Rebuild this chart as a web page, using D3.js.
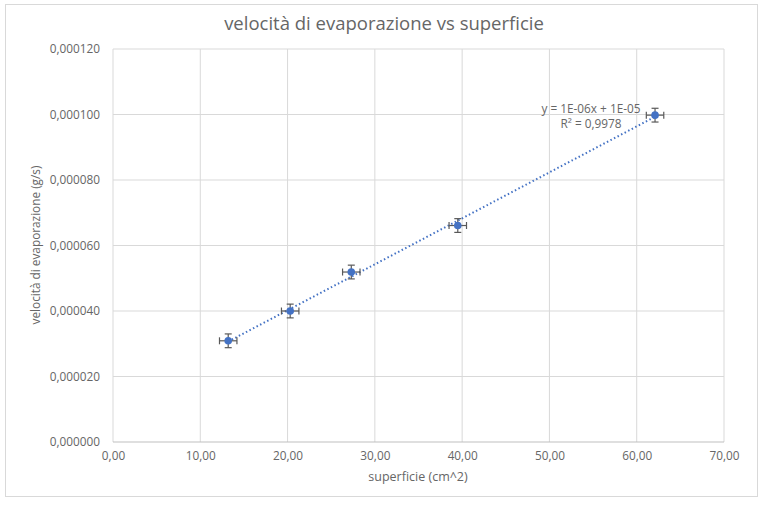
<!DOCTYPE html>
<html><head><meta charset="utf-8">
<script src="https://cdn.jsdelivr.net/npm/d3@7"></script>
<style>body{margin:0;background:#fff}svg{display:block}</style>
</head><body><svg id="c" width="764" height="506"></svg>
<script>
const superficie = [13.2, 20.3, 27.3, 39.5, 62.1];
const velocita = [0.0000309, 0.0000400, 0.0000519, 0.0000661, 0.0000998];
const errX = [1.0, 1.0, 1.0, 1.0, 1.0];
const errY = [0.0000021, 0.0000021, 0.0000021, 0.0000021, 0.0000021];
const xTicks = [0, 10, 20, 30, 40, 50, 60, 70];
const yTicks = [0, 0.00002, 0.00004, 0.00006, 0.00008, 0.0001, 0.00012];
const title = "velocità di evaporazione vs superficie";
const xTitle = "superficie (cm^2)";
const yTitle = "velocità di evaporazione (g/s)";
const eqText = "y = 1E-06x + 1E-05";
const r2Text = "R² = 0,9978";

const svg = d3.select("#c");
const font = "'Open Sans', sans-serif";
const grey = "#666666";
svg.append("rect").attr("x",5.5).attr("y",4.5).attr("width",752).attr("height",492)
  .attr("fill","#fff").attr("stroke","#d9d9d9");

const x = d3.scaleLinear().domain([0,70]).range([113,724]);
const y = d3.scaleLinear().domain([0,0.00012]).range([442,49]);

// grid
svg.append("g").selectAll("line").data(xTicks).join("line")
  .attr("x1",d=>x(d)).attr("x2",d=>x(d)).attr("y1",y(0.00012)).attr("y2",y(0))
  .attr("stroke","#d9d9d9").attr("stroke-width",1);
svg.append("g").selectAll("line").data(yTicks).join("line")
  .attr("x1",x(0)).attr("x2",x(70)).attr("y1",d=>y(d)).attr("y2",d=>y(d))
  .attr("stroke",d=>d===0?"#bfbfbf":"#d9d9d9").attr("stroke-width",1);

const fmtY = d => d.toFixed(6).replace(".", ",");
const fmtX = d => d.toFixed(2).replace(".", ",");
const yAxis = d3.axisLeft(y).tickValues(yTicks).tickFormat(fmtY).tickSize(0).tickPadding(13);
const gy = svg.append("g").attr("transform",`translate(${x(0)},0)`).call(yAxis);
gy.select(".domain").remove();
gy.selectAll("text").attr("fill",grey).style("font-family",font).style("font-size","11.8px");
const xAxis = d3.axisBottom(x).tickValues(xTicks).tickFormat(fmtX).tickSize(0).tickPadding(10);
const gx = svg.append("g").attr("transform",`translate(0,${y(0)})`).call(xAxis);
gx.select(".domain").remove();
gx.selectAll("text").attr("fill",grey).style("font-family",font).style("font-size","11.8px");

// trendline (least squares)
const n = superficie.length;
const mx = d3.mean(superficie), my = d3.mean(velocita);
let sxy=0, sxx=0;
for (let i=0;i<n;i++){ sxy+=(superficie[i]-mx)*(velocita[i]-my); sxx+=(superficie[i]-mx)**2; }
const slope = sxy/sxx, icpt = my - slope*mx;
const x0 = d3.min(superficie), x1 = d3.max(superficie);
svg.append("line").attr("x1",x(x0)).attr("x2",x(x1))
  .attr("y1",y(icpt+slope*x0)).attr("y2",y(icpt+slope*x1))
  .attr("stroke","#4472C4").attr("stroke-width",2).attr("stroke-dasharray","1.5 2.5");

// error bars
const pts = superficie.map((s,i)=>({s, v:velocita[i], ex:errX[i], ey:errY[i]}));
const eb = svg.append("g").attr("stroke","#595959").attr("stroke-width",1.2);
pts.forEach(p=>{
  eb.append("line").attr("x1",x(p.s-p.ex)).attr("x2",x(p.s+p.ex)).attr("y1",y(p.v)).attr("y2",y(p.v));
  eb.append("line").attr("x1",x(p.s-p.ex)).attr("x2",x(p.s-p.ex)).attr("y1",y(p.v)-3.5).attr("y2",y(p.v)+3.5);
  eb.append("line").attr("x1",x(p.s+p.ex)).attr("x2",x(p.s+p.ex)).attr("y1",y(p.v)-3.5).attr("y2",y(p.v)+3.5);
  eb.append("line").attr("x1",x(p.s)).attr("x2",x(p.s)).attr("y1",y(p.v-p.ey)).attr("y2",y(p.v+p.ey));
  eb.append("line").attr("x1",x(p.s)-3.5).attr("x2",x(p.s)+3.5).attr("y1",y(p.v-p.ey)).attr("y2",y(p.v-p.ey));
  eb.append("line").attr("x1",x(p.s)-3.5).attr("x2",x(p.s)+3.5).attr("y1",y(p.v+p.ey)).attr("y2",y(p.v+p.ey));
});
svg.append("g").selectAll("circle").data(pts).join("circle")
  .attr("cx",d=>x(d.s)).attr("cy",d=>y(d.v)).attr("r",3.8).attr("fill","#4472C4");

// equation
svg.append("text").attr("x",591).attr("y",113).attr("text-anchor","middle")
  .attr("fill",grey).style("font-family",font).style("font-size","11.8px").text(eqText);
svg.append("text").attr("x",591).attr("y",128).attr("text-anchor","middle")
  .attr("fill",grey).style("font-family",font).style("font-size","11.8px").text(r2Text);

// titles
svg.append("text").attr("x",384).attr("y",30).attr("text-anchor","middle")
  .attr("fill",grey).style("font-family",font).style("font-size","18.5px").text(title);
svg.append("text").attr("x",418).attr("y",481).attr("text-anchor","middle")
  .attr("fill",grey).style("font-family",font).style("font-size","12.5px").text(xTitle);
svg.append("text").attr("transform","translate(40,245) rotate(-90)").attr("text-anchor","middle")
  .attr("fill",grey).style("font-family",font).style("font-size","11.8px").text(yTitle);
</script></body></html>
